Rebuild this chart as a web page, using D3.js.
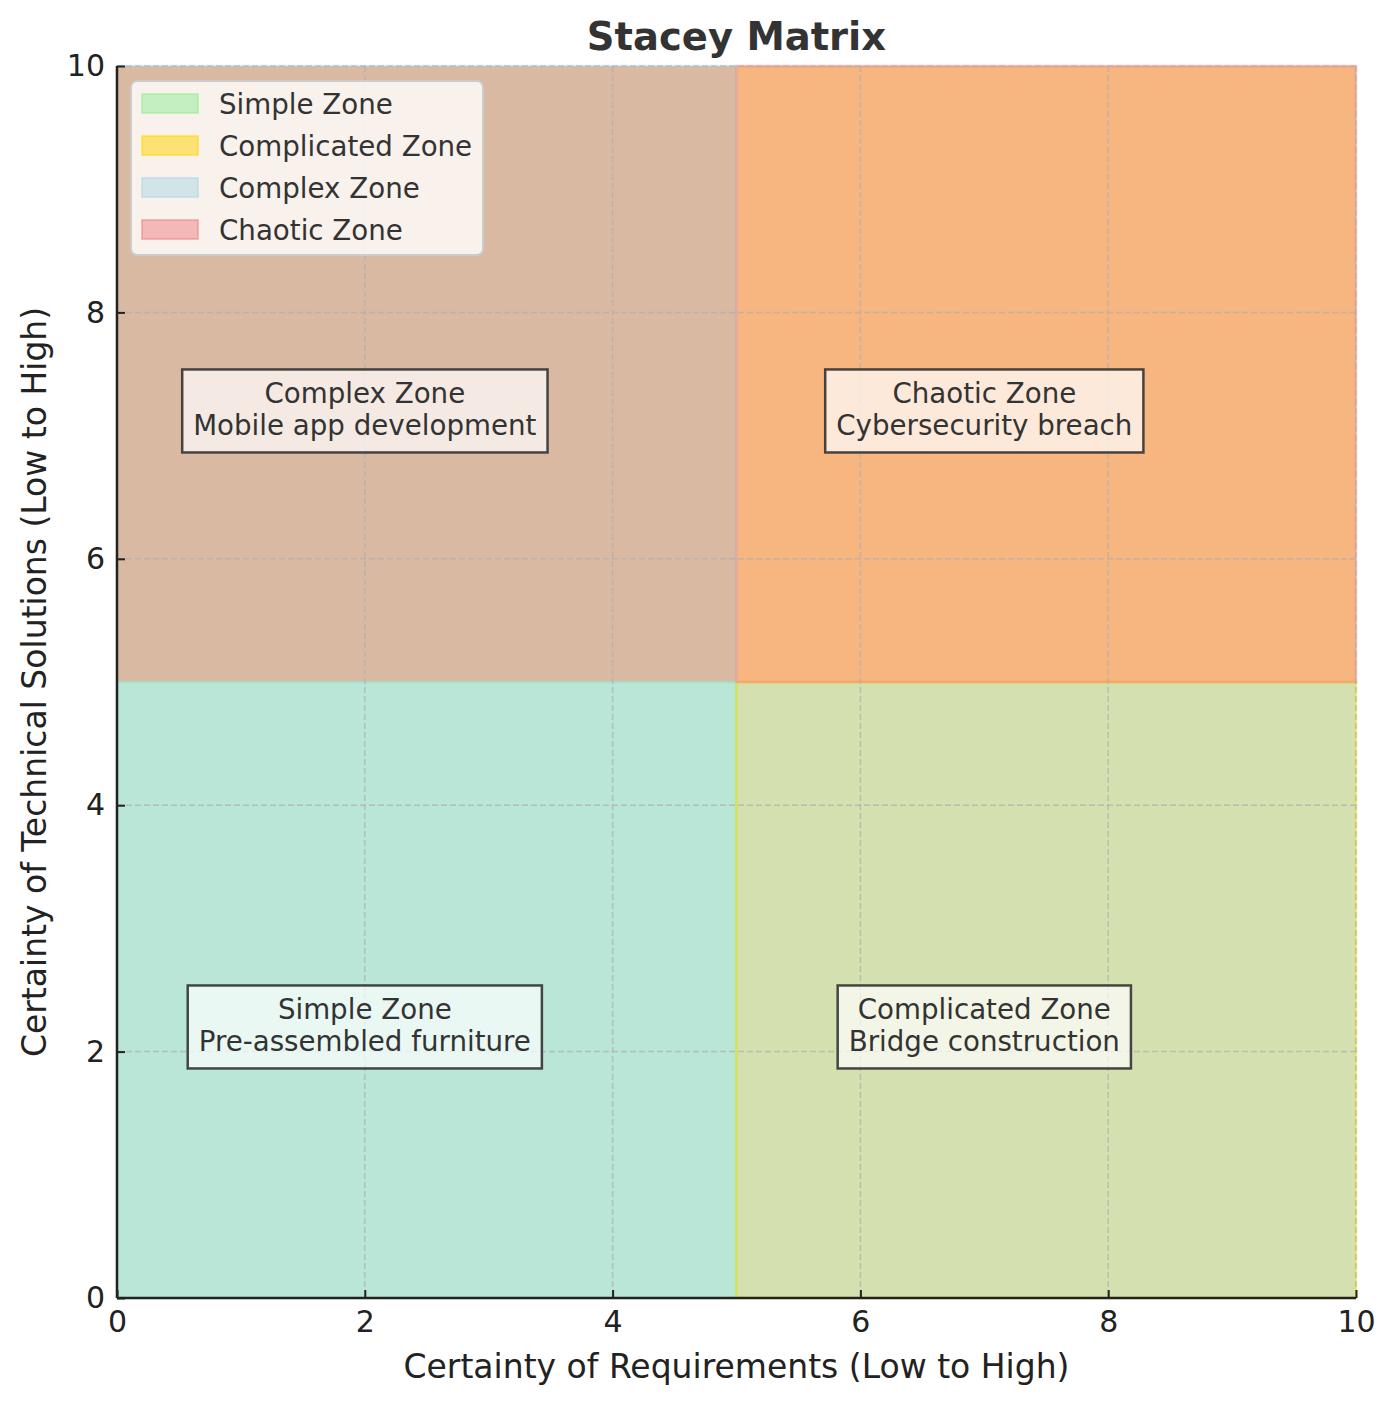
<!DOCTYPE html>
<html>
<head>
<meta charset="utf-8">
<script src="https://cdn.jsdelivr.net/npm/d3@7"></script>
<style>
  body { margin: 0; background: #fff; }
  text { font-family: "DejaVu Sans", sans-serif; }
</style>
</head>
<body>
<div id="chart-area"></div>
<script>
// zones: name, x range, y range
var zoneNames = ["Simple Zone", "Complicated Zone", "Complex Zone", "Chaotic Zone"];
var zoneX0 = [0, 5, 0, 5];
var zoneX1 = [5, 10, 5, 10];
var zoneY0 = [0, 0, 5, 5];
var zoneY1 = [5, 5, 10, 10];
var zoneExamples = ["Pre-assembled furniture", "Bridge construction", "Mobile app development", "Cybersecurity breach"];
var labelX = [2, 7, 2, 7];
var labelY = [2.2, 2.2, 7.2, 7.2];
var xTicks = [0, 2, 4, 6, 8, 10];
var yTicks = [0, 2, 4, 6, 8, 10];

// colours as they appear on the plot and in the legend
var zoneFill = ["#bae6d7", "#d5e0b0", "#dab9a2", "#f7b580"];
var zoneEdge = ["#90ee90", "#ffd700", "#add8e6", "#f08080"];
var legendFill = ["#c4efc0", "#fce274", "#d2e4e8", "#f3b9b9"];

var margin = {top: 66, right: 41, bottom: 107, left: 117};
var W = 1397, H = 1405;
var width = W - margin.left - margin.right;
var height = H - margin.top - margin.bottom;

var svg = d3.select("#chart-area").append("svg")
  .attr("width", W)
  .attr("height", H);

var g = svg.append("g")
  .attr("transform", "translate(" + margin.left + "," + margin.top + ")");

var x = d3.scaleLinear().domain([0, 10]).range([0, width]);
var y = d3.scaleLinear().domain([0, 10]).range([height, 0]);

var zones = zoneNames.map(function(n, i) {
  return {name: n, x0: zoneX0[i], x1: zoneX1[i], y0: zoneY0[i], y1: zoneY1[i],
    example: zoneExamples[i], lx: labelX[i], ly: labelY[i], i: i};
});

g.selectAll("rect.zone").data(zones).enter().append("rect")
  .attr("class", "zone")
  .attr("x", function(d) { return x(d.x0); })
  .attr("y", function(d) { return y(d.y1); })
  .attr("width", function(d) { return x(d.x1) - x(d.x0); })
  .attr("height", function(d) { return y(d.y0) - y(d.y1); })
  .attr("fill", function(d) { return zoneFill[d.i]; });

g.selectAll("rect.zone-edge").data(zones).enter().append("rect")
  .attr("class", "zone-edge")
  .attr("x", function(d) { return x(d.x0); })
  .attr("y", function(d) { return y(d.y1); })
  .attr("width", function(d) { return x(d.x1) - x(d.x0); })
  .attr("height", function(d) { return y(d.y0) - y(d.y1); })
  .attr("fill", "none")
  .attr("stroke", function(d) { return zoneEdge[d.i]; })
  .attr("stroke-opacity", 0.45)
  .attr("stroke-width", 2.5);

// grid
g.selectAll("line.gx").data(xTicks).enter().append("line")
  .attr("x1", function(d) { return x(d); }).attr("x2", function(d) { return x(d); })
  .attr("y1", 0).attr("y2", height)
  .attr("stroke", "#b0b0b0").attr("stroke-opacity", 0.75)
  .attr("stroke-width", 1.5).attr("stroke-dasharray", "6,3");
g.selectAll("line.gy").data(yTicks).enter().append("line")
  .attr("y1", function(d) { return y(d); }).attr("y2", function(d) { return y(d); })
  .attr("x1", 0).attr("x2", width)
  .attr("stroke", "#b0b0b0").attr("stroke-opacity", 0.75)
  .attr("stroke-width", 1.5).attr("stroke-dasharray", "6,3");

// axes, ticks pointing inwards
var bottomAxis = d3.axisBottom(x).tickValues(xTicks).tickSize(-8).tickPadding(13).tickFormat(d3.format("d"));
var gx = g.append("g")
  .attr("transform", "translate(0," + height + ")")
  .call(bottomAxis);
var leftAxis = d3.axisLeft(y).tickValues(yTicks).tickSize(-8).tickPadding(12).tickFormat(d3.format("d"));
var gy = g.append("g").call(leftAxis);

[gx, gy].forEach(function(a) {
  a.select(".domain").attr("stroke", "#222").attr("stroke-width", 2.5);
  a.selectAll(".tick line").attr("stroke", "#222").attr("stroke-width", 2);
  a.selectAll(".tick text").attr("fill", "#222").attr("font-size", "30px")
    .style("font-family", "DejaVu Sans, sans-serif");
});
gx.select(".domain").attr("d", "M0,0H" + width);
gy.select(".domain").attr("d", "M0," + height + "V0");

// zone label boxes
var boxes = g.selectAll("g.box").data(zones).enter().append("g")
  .attr("class", "box")
  .attr("transform", function(d) { return "translate(" + x(d.lx) + "," + y(d.ly) + ")"; });

boxes.each(function(d) {
  var b = d3.select(this);
  var rect = b.append("rect");
  var t = b.append("text")
    .attr("text-anchor", "middle")
    .attr("font-size", "27.7px")
    .attr("fill", "#333");
  t.append("tspan").attr("x", 0).attr("y", -8).text(d.name);
  t.append("tspan").attr("x", 0).attr("y", 24).text(d.example);
  var bb = t.node().getBBox();
  rect.attr("x", bb.x - 11).attr("y", -41.5)
    .attr("width", bb.width + 22).attr("height", 83)
    .attr("fill", "#fff").attr("fill-opacity", 0.7)
    .attr("stroke", "#333").attr("stroke-opacity", 0.9).attr("stroke-width", 2.5);
});

// legend
var legend = g.append("g").attr("transform", "translate(14,15)");
legend.append("rect")
  .attr("width", 352).attr("height", 174)
  .attr("rx", 6).attr("ry", 6)
  .attr("fill", "#fff").attr("fill-opacity", 0.8)
  .attr("stroke", "#cccccc").attr("stroke-width", 2);
var items = legend.selectAll("g.item").data(zones).enter().append("g")
  .attr("transform", function(d, i) { return "translate(10," + (12 + i * 42) + ")"; });
items.append("rect")
  .attr("x", 1).attr("y", 1).attr("width", 56).attr("height", 19)
  .attr("fill", function(d) { return legendFill[d.i]; })
  .attr("stroke", function(d) { return zoneEdge[d.i]; })
  .attr("stroke-opacity", 0.5).attr("stroke-width", 2);
items.append("text")
  .attr("x", 78).attr("y", 21)
  .attr("font-size", "27.7px")
  .attr("fill", "#333")
  .text(function(d) { return d.name; });

// title and axis labels
svg.append("text")
  .attr("x", margin.left + width / 2).attr("y", 50)
  .attr("text-anchor", "middle")
  .attr("font-size", "38.5px").attr("font-weight", "bold")
  .attr("fill", "#333")
  .text("Stacey Matrix");

svg.append("text")
  .attr("x", margin.left + width / 2).attr("y", 1378)
  .attr("text-anchor", "middle")
  .attr("font-size", "33px").attr("fill", "#222")
  .text("Certainty of Requirements (Low to High)");

svg.append("text")
  .attr("transform", "translate(46," + (margin.top + height / 2) + ") rotate(-90)")
  .attr("text-anchor", "middle")
  .attr("font-size", "33px").attr("fill", "#222")
  .text("Certainty of Technical Solutions (Low to High)");
</script>
</body>
</html>
